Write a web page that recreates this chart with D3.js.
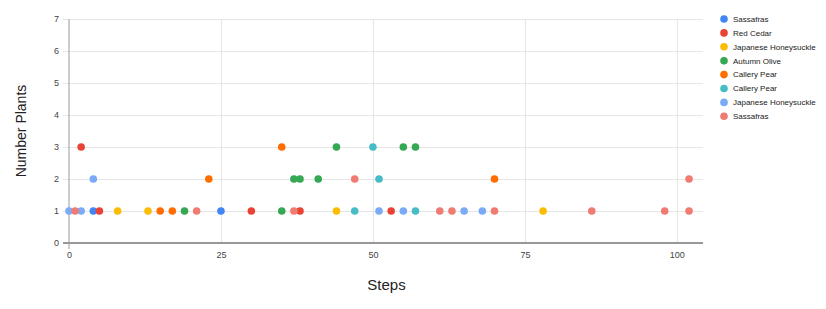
<!DOCTYPE html>
<html lang="en">
    <head>
        <meta charset="UTF-8" />
        <title>Number Plants by Steps</title>
        <style>
            body {
                margin: 0;
                background: #fff;
                font-family: 'Liberation Sans', Arial, sans-serif;
            }
            .grid line {
                stroke: #e6e6e6;
                stroke-width: 1px;
            }
            .tick text {
                fill: #444;
                font-size: 9px;
            }
        </style>
    </head>
    <body>
        <svg width="826" height="309"></svg>
        <script src="https://d3js.org/d3.v7.min.js"></script>
        <script>
            // legend labels and colours, one per series
            const seriesNames = [
                'Sassafras',
                'Red Cedar',
                'Japanese Honeysuckle',
                'Autumn Olive',
                'Callery Pear',
                'Callery Pear',
                'Japanese Honeysuckle',
                'Sassafras'
            ];
            const seriesColors = ['#4285f4', '#ea4335', '#fbbc04', '#34a853', '#ff6d01', '#46bdc6', '#7baaf7', '#f07b72'];

            // [steps, plants] per series
            const sassafras = [[4, 1], [25, 1]];
            const redCedar = [[2, 3], [5, 1], [30, 1], [38, 1], [53, 1]];
            const honeysuckle = [[8, 1], [13, 1], [44, 1], [78, 1]];
            const autumnOlive = [[19, 1], [35, 1], [37, 2], [38, 2], [41, 2], [44, 3], [55, 3], [57, 3]];
            const calleryPear = [[15, 1], [17, 1], [23, 2], [35, 3], [70, 2]];
            const calleryPear2 = [[47, 1], [50, 3], [51, 2], [57, 1]];
            const honeysuckle2 = [[0, 1], [2, 1], [4, 2], [51, 1], [55, 1], [65, 1], [68, 1]];
            const sassafras2 = [[1, 1], [21, 1], [37, 1], [47, 2], [61, 1], [63, 1], [70, 1], [86, 1], [98, 1], [102, 1], [102, 2]];

            const xTicks = [0, 25, 50, 75, 100];
            const yTicks = [0, 1, 2, 3, 4, 5, 6, 7];

            const allSeries = [sassafras, redCedar, honeysuckle, autumnOlive, calleryPear, calleryPear2, honeysuckle2, sassafras2];

            const svg = d3.select('svg');
            const plotLeft = 69, plotRight = 703, plotTop = 19, plotBottom = 243;

            const x = d3.scaleLinear().domain([0, 104.3]).range([plotLeft, plotRight]);
            const y = d3.scaleLinear().domain([0, 7]).range([plotBottom, plotTop]);

            // horizontal gridlines
            svg.append('g')
                .attr('class', 'grid')
                .attr('transform', `translate(${plotLeft - 6},0)`)
                .call(d3.axisRight(y).tickValues(yTicks.slice(1)).tickSize(plotRight - plotLeft + 6).tickFormat(''))
                .call((g) => g.select('.domain').remove());

            // vertical gridlines
            svg.append('g')
                .attr('class', 'grid')
                .attr('transform', `translate(0,${plotTop})`)
                .call(d3.axisBottom(x).tickValues(xTicks.slice(1)).tickSize(plotBottom - plotTop).tickFormat(''))
                .call((g) => g.select('.domain').remove());

            // y axis labels
            svg.append('g')
                .attr('transform', `translate(${plotLeft - 6},0)`)
                .call(d3.axisLeft(y).tickValues(yTicks).tickSize(0).tickPadding(4).tickFormat(d3.format('d')))
                .call((g) => g.select('.domain').remove());

            // x axis labels
            svg.append('g')
                .attr('transform', `translate(0,${plotBottom + 6})`)
                .call(d3.axisBottom(x).tickValues(xTicks).tickSize(0).tickPadding(3).tickFormat(d3.format('d')))
                .call((g) => g.select('.domain').remove());

            // baselines
            svg.append('line')
                .attr('x1', plotLeft - 6).attr('x2', plotRight)
                .attr('y1', plotBottom).attr('y2', plotBottom)
                .attr('stroke', '#333');
            svg.append('line')
                .attr('x1', plotLeft).attr('x2', plotLeft)
                .attr('y1', plotTop).attr('y2', plotBottom + 6)
                .attr('stroke', '#999');

            // points
            allSeries.forEach((data, i) => {
                svg.append('g')
                    .selectAll('circle')
                    .data(data)
                    .join('circle')
                    .attr('cx', (d) => x(d[0]))
                    .attr('cy', (d) => y(d[1]))
                    .attr('r', 3.8)
                    .attr('fill', seriesColors[i]);
            });

            // axis titles
            svg.append('text')
                .attr('x', (plotLeft + plotRight) / 2 + 0.5)
                .attr('y', 290)
                .attr('text-anchor', 'middle')
                .attr('font-size', 15)
                .attr('fill', '#222')
                .text('Steps');
            svg.append('text')
                .attr('transform', 'translate(26,131) rotate(-90)')
                .attr('text-anchor', 'middle')
                .attr('font-size', 14)
                .attr('fill', '#222')
                .text('Number Plants');

            // legend
            const legend = svg.append('g').attr('transform', 'translate(724,19)');
            const row = legend
                .selectAll('g')
                .data(seriesNames)
                .join('g')
                .attr('transform', (d, i) => `translate(0,${i * 13.9})`);
            row.append('circle').attr('r', 3.8).attr('fill', (d, i) => seriesColors[i]);
            row.append('text')
                .attr('x', 9)
                .attr('dy', '0.35em')
                .attr('font-size', 8)
                .attr('fill', '#222')
                .text((d) => d);
        </script>
    </body>
</html>
